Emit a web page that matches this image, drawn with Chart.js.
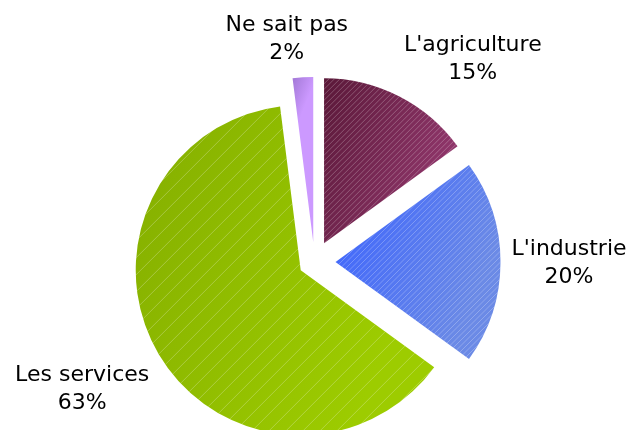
<!DOCTYPE html>
<html><head><meta charset="utf-8">
<script src="https://cdn.jsdelivr.net/npm/chart.js@4/dist/chart.umd.min.js"></script>
<style>html,body{margin:0;padding:0;background:#fff}#wrap{width:629px;height:430px}</style>
</head><body><div id="wrap"><canvas id="c" width="629" height="430"></canvas></div>
<script>
const categories = ["L'agriculture", "L'industrie", "Les services", "Ne sait pas"];
const values = [15, 20, 63, 2];
const percentLabels = ["15%", "20%", "63%", "2%"];

const colorsDark = ['#5a1838', '#3a62ff', '#84ae00', '#a278d6'];
const colorsLight = ['#8e3569', '#6b8ae6', '#9dcc00', '#cc99ff'];
const explodePx = [21, 21, 16, 20];
const hatchSpacing = [5.5, 5.5, 17, 0];
const RADIUS = 165;
const FONT = '22px "DejaVu Sans", Verdana, sans-serif';
const LINE_H = 28;

const TAU = Math.PI * 2;
function sliceAngles(i) {
  const total = values.reduce((a, b) => a + b, 0);
  let s = -Math.PI / 2;
  for (let j = 0; j < i; j++) s += values[j] / total * TAU;
  return [s, s + values[i] / total * TAU];
}

function gradientFill(ctx) {
  const i = ctx.dataIndex;
  const ch = ctx.chart;
  const a = ch.chartArea;
  if (!a) return colorsLight[i];
  const cx = (a.left + a.right) / 2, cy = (a.top + a.bottom) / 2;
  const [s, e] = sliceAngles(i);
  let minX = cx, maxX = cx, minY = cy, maxY = cy;
  for (let k = 0; k <= 40; k++) {
    const t = s + (e - s) * k / 40;
    const px = cx + Math.cos(t) * RADIUS, py = cy + Math.sin(t) * RADIUS;
    minX = Math.min(minX, px); maxX = Math.max(maxX, px);
    minY = Math.min(minY, py); maxY = Math.max(maxY, py);
  }
  const g = ch.ctx.createLinearGradient(minX, minY, maxX, minY + (maxX - minX) * 0.4);
  g.addColorStop(0, colorsDark[i]);
  g.addColorStop(1, colorsLight[i]);
  return g;
}

function radialOffset(el) {
  const o = (el.options.offset || 0) / 4;
  const fix = 1 - Math.sin(Math.min(Math.PI, el.circumference || 0));
  return {o, ro: o * fix};
}

// Make the exploded slices a pure translation (equal radii, full angles)
const explodeFix = {
  id: 'explodeFix',
  afterDatasetUpdate(chart, args) {
    args.meta.data.forEach(el => {
      const {ro} = radialOffset(el);
      el.outerRadius = RADIUS - ro;
      const ao = ro / (2 * Math.PI * RADIUS);
      el.startAngle -= ao;
      el.endAngle += ao;
    });
  }
};

function arcGeom(el) {
  const {o, ro} = radialOffset(el);
  const half = (el.startAngle + el.endAngle) / 2;
  const dx = Math.cos(half) * o, dy = Math.sin(half) * o;
  const R = RADIUS;
  const alpha = el.endAngle - el.startAngle;
  const beta = Math.max(0.001, alpha * R - ro / Math.PI) / R;
  const ao = (alpha - beta) / 2;
  return {x: el.x + dx, y: el.y + dy, s: el.startAngle + ao, e: el.endAngle - ao, half, R};
}

const hatch = {
  id: 'hatch',
  afterDatasetsDraw(chart) {
    const ctx = chart.ctx;
    const meta = chart.getDatasetMeta(0);
    meta.data.forEach((el, i) => {
      const sp = hatchSpacing[i];
      if (!sp) return;
      const g = arcGeom(el);
      ctx.save();
      ctx.beginPath();
      ctx.moveTo(g.x, g.y);
      ctx.arc(g.x, g.y, g.R, g.s, g.e);
      ctx.closePath();
      ctx.clip();
      ctx.strokeStyle = 'rgba(255,255,255,0.25)';
      ctx.lineWidth = 1;
      ctx.beginPath();
      for (let c = -2 * g.R; c <= 2 * g.R; c += sp) {
        ctx.moveTo(g.x + c - g.R, g.y + g.R);
        ctx.lineTo(g.x + c + g.R, g.y - g.R);
      }
      ctx.stroke();
      ctx.restore();
    });
  }
};

const clamp = v => Math.max(-1, Math.min(1, v));
const labels = {
  id: 'outLabels',
  afterDraw(chart) {
    const ctx = chart.ctx;
    const meta = chart.getDatasetMeta(0);
    ctx.save();
    ctx.font = FONT;
    ctx.fillStyle = '#000';
    ctx.textAlign = 'center';
    ctx.textBaseline = 'alphabetic';
    meta.data.forEach((el, i) => {
      const g = arcGeom(el);
      const t = g.R + 11;
      const ax = g.x + Math.cos(g.half) * t;
      const ay = g.y + Math.sin(g.half) * t;
      const lines = [categories[i], percentLabels[i]];
      const W = Math.max(...lines.map(l => ctx.measureText(l).width));
      const H = 56;
      const cx = ax + (W / 2) * clamp(4 * Math.cos(g.half));
      const cy = ay + (H / 2) * clamp(4 * Math.sin(g.half));
      const b1 = cy - H / 2 + 21;
      lines.forEach((l, k) => ctx.fillText(l, cx, b1 + k * LINE_H));
    });
    ctx.restore();
  }
};

new Chart(document.getElementById('c'), {
  type: 'pie',
  data: {
    labels: categories,
    datasets: [{
      data: values,
      backgroundColor: gradientFill,
      borderWidth: 0,
      offset: explodePx.map(v => v * 4),
      hoverOffset: 0
    }]
  },
  options: {
    responsive: false,
    devicePixelRatio: 1,
    animation: false,
    radius: RADIUS,
    layout: {padding: {top: 94, left: 0, right: 0, bottom: 0}},
    plugins: {legend: {display: false}, tooltip: {enabled: false}}
  },
  plugins: [explodeFix, hatch, labels]
});
</script>
</body></html>
